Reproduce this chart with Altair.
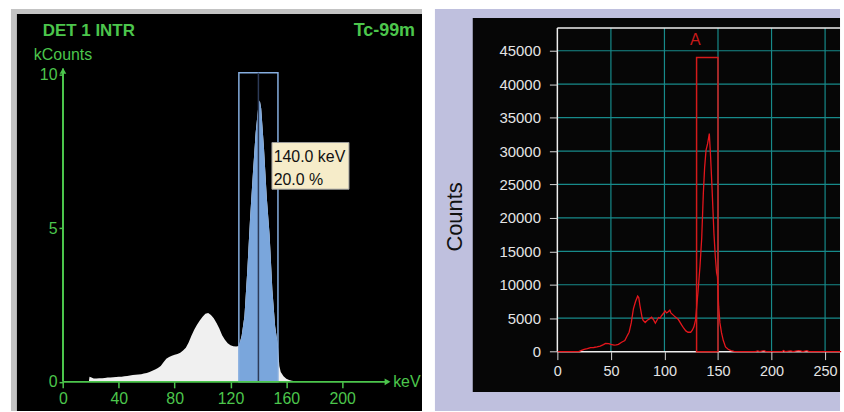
import altair as alt
import pandas as pd

# ---------------- Left panel: gamma camera energy spectrum ----------------
left_kev = [18.5, 19, 20, 22, 24, 26, 28, 30, 32, 34, 36, 38, 40, 42, 44, 46, 48, 50,
            52, 54, 56, 58, 60, 62, 64, 66, 68, 70, 72, 74, 76, 78, 80, 82, 84, 86, 88,
            90, 92, 94, 96, 98, 100, 102, 104, 106, 108, 110, 112, 114, 116, 118, 120,
            122, 124, 126, 128, 130, 132, 134, 136, 138, 140, 141, 142, 144, 146, 148,
            150, 152, 154, 155, 156, 158, 160, 162, 164, 166, 168]
left_kcounts = [0, 0.17, 0.15, 0.11, 0.11, 0.12, 0.12, 0.13, 0.14, 0.14, 0.15, 0.16, 0.17,
                0.17, 0.18, 0.19, 0.21, 0.22, 0.23, 0.24, 0.25, 0.27, 0.29, 0.32, 0.36,
                0.40, 0.45, 0.52, 0.64, 0.75, 0.81, 0.85, 0.88, 0.91, 0.95, 1.02, 1.11,
                1.28, 1.50, 1.70, 1.86, 2.00, 2.12, 2.22, 2.24, 2.18, 2.07, 1.92, 1.74,
                1.52, 1.37, 1.26, 1.19, 1.16, 1.15, 1.17, 1.5, 2.14, 3.6, 5.3, 6.75, 8.1,
                9.0, 9.16, 8.9, 7.6, 6.0, 4.8, 3.0, 1.8, 1.17, 0.52, 0.32, 0.18, 0.10,
                0.06, 0.04, 0.02, 0.0]
left_xticks = [0, 40, 80, 120, 160, 200]
left_yticks = [0, 5, 10]
window_lo, window_hi, window_center, window_top = 126, 154, 140, 10.06
peak_lines = ["140.0 keV", "20.0 %"]
left_title, left_isotope = "DET 1 INTR", "Tc-99m"
left_ylabel, left_xlabel = "kCounts", "keV"

# ---------------- Right panel: counts spectrum ----------------
right_kev = [0, 20, 22, 25, 28, 31, 34, 37, 40, 43, 45, 48, 50, 53, 55, 57, 60, 63, 65, 67,
             69, 71, 73, 75, 76, 77, 78, 79, 80, 82, 84, 86, 88, 90, 91.5, 93, 94.5, 96, 97,
             99, 100.5, 102, 103, 105, 106, 108, 110, 113, 116, 118, 120, 122, 124.5, 126,
             127.5, 129, 130, 131.5, 133.2, 134.8, 136.3, 137.5, 138.8, 140.3, 141.9,
             143.1, 144.4, 146.2, 147.5, 148.7, 149.5, 150.6, 151.8, 153.3, 154.9, 157,
             159.5, 162, 165, 167, 185, 187, 189, 193, 195, 210, 211, 213, 218, 220, 225,
             227, 229, 233, 235, 265]
right_counts = [0, 0, 150, 330, 450, 600, 620, 700, 840, 1050, 1240, 1190, 1080, 980, 1000,
                1090, 1400, 1650, 2300, 2900, 4300, 6400, 7500, 8300, 8100, 7000, 6100,
                5200, 4700, 4350, 4700, 4900, 5150, 4700, 4250, 4700, 5100, 5000, 5300,
                5700, 6100, 5800, 5900, 6200, 5800, 5500, 5200, 4800, 4000, 3500, 3100,
                2900, 2900, 3200, 3700, 4700, 6500, 9300, 12800, 17000, 23600, 27500,
                30100, 31100, 32600, 29100, 24600, 17700, 14200, 11800, 11200, 6800, 4300,
                2800, 1700, 700, 350, 150, 30, 0, 0, 120, 0, 150, 0, 0, 150, 0, 120, 0,
                150, 100, 0, 150, 0, 0]
right_xticks = [0, 50, 100, 150, 200, 250]
right_yticks = [0, 5000, 10000, 15000, 20000, 25000, 30000, 35000, 40000, 45000]
roi_lo, roi_hi, roi_top = 130, 150, 44000
roi_label = "A"
frame_top, frame_right = 48400, 270
right_ylabel = "Counts"

FONT = "Liberation Sans"
GREEN = "#4cc64c"
one = pd.DataFrame({"k": [0]})

# ================= LEFT =================
LX = alt.Scale(domain=[-37.29, 257.2], nice=False, zero=False)
LY = alt.Scale(domain=[-0.949, 12.138], nice=False, zero=False)


def lx(f):
    return alt.X(f, type="quantitative", scale=LX)


def ly(f):
    return alt.Y(f, type="quantitative", scale=LY)


left_df = pd.DataFrame({"kev": left_kev, "kc": left_kcounts, "base": 0})

black_l = alt.Chart(one).mark_rect(color="#000000").encode(
    x=alt.value(6), x2=alt.value(413), y=alt.value(5), y2=alt.value(404))

white_area = alt.Chart(left_df).mark_area(color="#f0f0f0").encode(
    x=alt.X("kev", type="quantitative", scale=LX,
            axis=alt.Axis(values=left_xticks, offset=-29.3, domain=False, grid=False,
                          tickColor=GREEN, tickSize=6, tickWidth=1.5, labelColor=GREEN,
                          labelFont=FONT, labelFontSize=16, labelPadding=3,
                          labelFlush=False, title=None, zindex=2)),
    y=alt.Y("kc", type="quantitative", scale=LY,
            axis=alt.Axis(values=left_yticks, offset=-52.3, domain=False, grid=False,
                          tickColor=GREEN, tickSize=4, tickWidth=1.5, labelColor=GREEN,
                          labelFont=FONT, labelFontSize=16, labelPadding=2,
                          labelFlush=False, title=None, zindex=2)),
    y2=alt.Y2("base"))

blue_area = alt.Chart(left_df).transform_filter(
    alt.FieldRangePredicate(field="kev", range=[window_lo, window_hi])
).mark_area(color="#7aa6dc").encode(x=lx("kev"), y=ly("kc"), y2=alt.Y2("base"))

win_df = pd.DataFrame({"lo": [window_lo], "hi": [window_hi], "c": [window_center],
                       "top": [window_top], "base": [0]})
win_box = alt.Chart(win_df).mark_rect(fillOpacity=0, stroke="#86aee0", strokeWidth=1.5).encode(
    x=lx("lo"), x2=alt.X2("hi"), y=ly("top"), y2=alt.Y2("base"))
win_center = alt.Chart(win_df).mark_rule(color="#2c3a57", strokeWidth=1.5).encode(
    x=lx("c"), y=ly("base"), y2=alt.Y2("top"))

axis_df = pd.DataFrame({"x0": [0, 0], "x1": [233, 0], "y0": [0, 0], "y1": [0, 10.2]})
axis_lines = alt.Chart(axis_df).mark_rule(color=GREEN, strokeWidth=2).encode(
    x=lx("x0"), x2=alt.X2("x1"), y=ly("y0"), y2=alt.Y2("y1"))
arrow_df = pd.DataFrame({"x": [232.5, 0], "y": [0, 10.12],
                         "shape": ["triangle-right", "triangle-up"]})
arrows = alt.Chart(arrow_df).mark_point(filled=True, color=GREEN, size=45, opacity=1).encode(
    x=lx("x"), y=ly("y"), shape=alt.Shape("shape:N", scale=None, legend=None))

tip_df = pd.DataFrame({"x0": [149.7], "x1": [204.9], "y0": [6.27], "y1": [7.79]})
tip_box = alt.Chart(tip_df).mark_rect(fill="#f6ecc9", stroke="#9a9a9a", strokeWidth=1).encode(
    x=lx("x0"), x2=alt.X2("x1"), y=ly("y0"), y2=alt.Y2("y1"))
tip_text_df = pd.DataFrame({"x": [150.9, 150.9], "y": [7.32, 6.57], "t": peak_lines})
tip_text = alt.Chart(tip_text_df).mark_text(
    align="left", baseline="middle", font=FONT, fontSize=16, color="#111111").encode(
    x=lx("x"), y=ly("y"), text="t:N")

title_l = alt.Chart(one).mark_text(align="left", baseline="middle", font=FONT, fontSize=17,
                                   fontWeight="bold", color=GREEN).encode(
    x=alt.value(32), y=alt.value(22), text=alt.value(left_title))
iso_l = alt.Chart(one).mark_text(align="right", baseline="middle", font=FONT, fontSize=18,
                                 fontWeight="bold", color=GREEN).encode(
    x=alt.value(406), y=alt.value(22), text=alt.value(left_isotope))
ylab_l = alt.Chart(one).mark_text(align="left", baseline="middle", font=FONT, fontSize=16,
                                  color=GREEN).encode(
    x=alt.value(23), y=alt.value(46), text=alt.value(left_ylabel))
xlab_l = alt.Chart(one).mark_text(align="left", baseline="middle", font=FONT, fontSize=16,
                                  color=GREEN, clip=True).encode(
    x=alt.value(384), y=alt.value(375), text=alt.value(left_xlabel))

left = alt.layer(black_l, white_area, blue_area, win_box, win_center, axis_lines, arrows,
                 tip_box, tip_text, title_l, iso_l, ylab_l, xlab_l).properties(
    width=413, height=404, view=alt.ViewBackground(fill="#c3c3c3", stroke=None))

# ================= RIGHT =================
RX = alt.Scale(domain=[-114.31, 263.94], nice=False, zero=False)
RY = alt.Scale(domain=[-8881, 51251], nice=False, zero=False)


def rx(f):
    return alt.X(f, type="quantitative", scale=RX)


def ry(f):
    return alt.Y(f, type="quantitative", scale=RY)


right_df = pd.DataFrame({"kev": right_kev, "cnt": right_counts})

black_r = alt.Chart(one).mark_rect(color="#060606").encode(
    x=alt.value(38), x2=alt.value(407), y=alt.value(9), y2=alt.value(385))

TEAL = "#178a8a"
vgrid_df = pd.DataFrame({"x": right_xticks[1:], "y0": 0, "y1": frame_top})
vgrid = alt.Chart(vgrid_df).mark_rule(color=TEAL, strokeWidth=1.2).encode(
    x=rx("x"), y=ry("y0"), y2=alt.Y2("y1"))
hgrid_df = pd.DataFrame({"y": right_yticks[1:], "x0": 0, "x1": frame_right})
hgrid = alt.Chart(hgrid_df).mark_rule(color=TEAL, strokeWidth=1.2, clip=True).encode(
    y=ry("y"), x=rx("x0"), x2=alt.X2("x1"))

frame_df = pd.DataFrame({"x0": [0, 0, 0], "x1": [0, frame_right, frame_right],
                         "y0": [0, frame_top, 0], "y1": [frame_top, frame_top, 0]})
frame = alt.Chart(frame_df).mark_rule(color="#eeeeee", strokeWidth=1.5, clip=True).encode(
    x=rx("x0"), x2=alt.X2("x1"), y=ry("y0"), y2=alt.Y2("y1"))

red_line = alt.Chart(right_df).mark_line(color="#e5161c", strokeWidth=1.3).encode(
    x=alt.X("kev", type="quantitative", scale=RX,
            axis=alt.Axis(values=right_xticks, offset=-59.67, domain=False, grid=False,
                          tickColor="#d8d8d8", tickSize=8, tickWidth=1,
                          labelColor="#e4e4e4", labelFont=FONT, labelFontSize=14.5,
                          labelPadding=5, labelFlush=False, title=None, zindex=2)),
    y=alt.Y("cnt", type="quantitative", scale=RY,
            axis=alt.Axis(values=right_yticks, offset=-123, domain=False, grid=False,
                          format="d", tickColor="#d8d8d8", tickSize=8, tickWidth=1,
                          labelColor="#e4e4e4", labelFont=FONT, labelFontSize=15,
                          labelPadding=9, labelFlush=False, title=None, zindex=2)))

roi_df = pd.DataFrame({"lo": [roi_lo], "hi": [roi_hi], "top": [roi_top], "base": [0],
                       "lx": [128.9], "ly": [46600], "t": [roi_label]})
roi_box = alt.Chart(roi_df).mark_rect(fillOpacity=0, stroke="#d41a1a", strokeWidth=1.5).encode(
    x=rx("lo"), x2=alt.X2("hi"), y=ry("top"), y2=alt.Y2("base"))
roi_text = alt.Chart(roi_df).mark_text(font=FONT, fontSize=16, color="#c81a1a",
                                       baseline="middle").encode(
    x=rx("lx"), y=ry("ly"), text="t:N")

ylab_r = alt.Chart(one).mark_text(angle=270, align="center", baseline="middle", font=FONT,
                                  fontSize=22, color="#111111").encode(
    x=alt.value(20), y=alt.value(209), text=alt.value(right_ylabel))

right = alt.layer(black_r, vgrid, hgrid, frame, red_line, roi_box, roi_text, ylab_r).properties(
    width=407, height=404, view=alt.ViewBackground(fill="#bfc0de", stroke=None))

chart = alt.hconcat(left, right, spacing=13, bounds="flush").properties(
    padding={"left": 11, "top": 8, "right": 0, "bottom": 0}, background="#ffffff"
).configure_view(stroke=None)

chart.save("out.html", embed_options={"renderer": "svg", "actions": False})
